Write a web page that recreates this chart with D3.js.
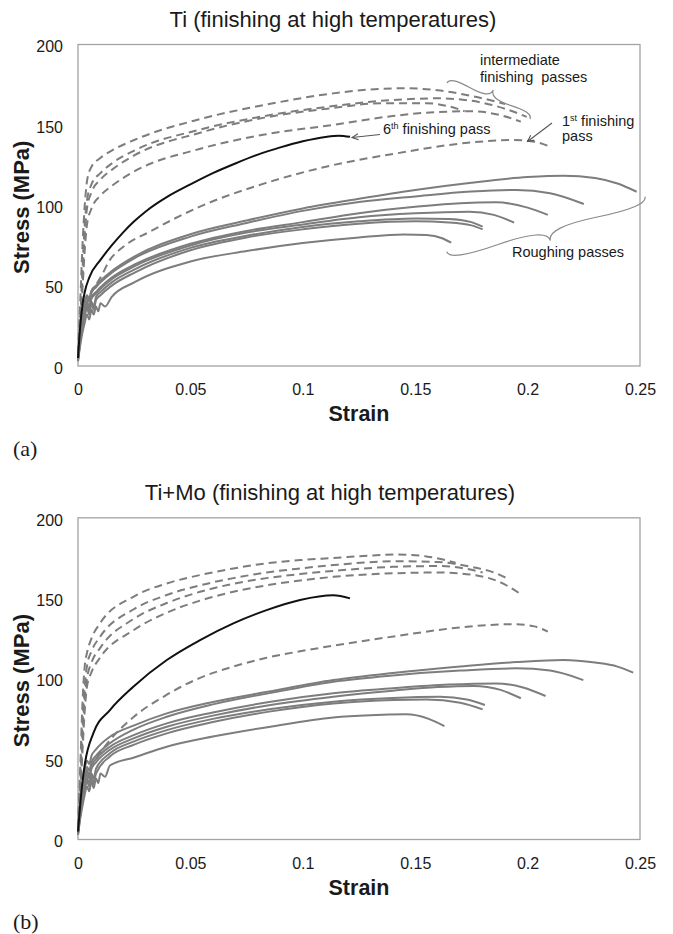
<!DOCTYPE html>
<html><head><meta charset="utf-8">
<script src="https://cdn.jsdelivr.net/npm/d3@7"></script>
<style>
body{margin:0;background:#fff}
text{font-family:"Liberation Sans",Arial,sans-serif;fill:#1a1a1a}
</style>
</head><body>
<svg id="c" width="673" height="934"></svg>
<script>
// ---------- axis data ----------
const xTicks = [0, 0.05, 0.1, 0.15, 0.2, 0.25];
const xTickLabels = ["0", "0.05", "0.1", "0.15", "0.2", "0.25"];
const yTicks = [0, 50, 100, 150, 200];
const yTickLabels = ["0", "50", "100", "150", "200"];
const titles = ["Ti (finishing at high temperatures)", "Ti+Mo (finishing at high temperatures)"];
const panelLabels = ["(a)", "(b)"];
const xLabel = "Strain";
const yLabel = "Stress (MPa)";

// ---------- (a) Ti : roughing passes (solid grey) ----------
const tiRoughing = [
 [[0,6],[0.001,22],[0.002,33],[0.003,40],[0.004,44],[0.005,42],[0.006,47],[0.008,50],[0.01,53],[0.015,59],[0.025,68],[0.05,82],[0.075,90.5],[0.1,98],[0.125,104],[0.15,109.5],[0.175,114],[0.2,117.5],[0.216,118.4],[0.23,117],[0.24,113.5],[0.2485,108.4]],
 [[0,5],[0.001,20],[0.002,31],[0.003,38],[0.004,43],[0.005,40],[0.006,46],[0.008,49],[0.01,52],[0.015,58],[0.025,67],[0.05,80.5],[0.075,89],[0.1,96.5],[0.125,102],[0.15,105.5],[0.175,108.5],[0.195,109.5],[0.21,107.5],[0.225,100.8]],
 [[0,5],[0.001,18],[0.002,28],[0.003,35],[0.004,40],[0.005,37],[0.006,43],[0.008,46],[0.01,49],[0.015,55],[0.025,63],[0.05,76],[0.075,84],[0.1,89.5],[0.125,95],[0.15,99],[0.17,101.3],[0.186,101.8],[0.2,98.5],[0.209,94]],
 [[0,4],[0.001,17],[0.002,27],[0.003,34],[0.004,39],[0.005,36],[0.006,42],[0.008,45],[0.01,48],[0.015,54],[0.025,62],[0.05,75],[0.075,83],[0.1,88],[0.125,92.5],[0.15,95],[0.174,96],[0.185,94],[0.194,89.2]],
 [[0,4],[0.001,16],[0.002,26],[0.003,33],[0.004,37],[0.005,34],[0.006,40],[0.007,37],[0.008,43],[0.01,46],[0.015,52],[0.025,60],[0.05,73.5],[0.075,81],[0.1,86.5],[0.125,90],[0.15,91.8],[0.165,91.5],[0.175,89.5],[0.18,86.7]],
 [[0,3],[0.001,15],[0.002,24],[0.003,31],[0.004,36],[0.005,32],[0.006,39],[0.007,35],[0.008,41],[0.01,44],[0.015,50],[0.025,58],[0.05,72],[0.075,80],[0.1,85],[0.125,88.5],[0.15,90],[0.165,89.3],[0.175,87.5],[0.18,85]],
 [[0,3],[0.001,13],[0.002,21],[0.003,27],[0.004,32],[0.005,29],[0.006,35],[0.007,32],[0.008,37],[0.009,34],[0.01,39],[0.012,37],[0.015,43],[0.025,52],[0.05,65],[0.075,71.5],[0.1,76.5],[0.125,80],[0.145,81.8],[0.155,81.5],[0.162,79.5],[0.166,76.7]]
];
// (a) intermediate finishing passes (dashed grey)
const tiIntermediate = [
 [[0,8],[0.001,40],[0.002,75],[0.003,100],[0.004,115],[0.006,124],[0.0098,129.2],[0.015,134],[0.025,140.6],[0.054,153.5],[0.083,162.4],[0.1135,169.6],[0.13,172],[0.145,172.8],[0.16,171.5],[0.175,168],[0.19,163]],
 [[0,6],[0.001,30],[0.002,60],[0.003,88],[0.004,103],[0.006,113],[0.01,120],[0.015,126],[0.025,134],[0.054,147],[0.083,155.5],[0.1135,161.7],[0.14,165.5],[0.16,166.5],[0.175,165],[0.19,160],[0.1996,155]],
 [[0,6],[0.001,28],[0.002,55],[0.003,82],[0.004,98],[0.006,108],[0.01,116],[0.015,122],[0.025,131],[0.054,145],[0.083,154.5],[0.1135,160.5],[0.135,163.5],[0.155,163.5],[0.165,161.5],[0.172,158.5]],
 [[0,5],[0.001,25],[0.002,48],[0.003,72],[0.004,88],[0.006,98],[0.01,106],[0.015,112],[0.025,121],[0.054,135],[0.083,144],[0.1135,150],[0.14,155.5],[0.16,158],[0.175,158.5],[0.188,156],[0.197,152]]
];
// (a) 1st finishing pass (dashed grey)
const tiFirstPass = [[0,5],[0.001,20],[0.002,30],[0.004,40],[0.007,48],[0.01,55],[0.0142,66],[0.02,74],[0.032,83.6],[0.054,99],[0.083,113.6],[0.1135,125],[0.1418,132.3],[0.171,138.5],[0.1936,140.6],[0.203,139.5],[0.2107,136]];
// (a) 6th finishing pass (solid black)
const tiSixthPass = [[0,5],[0.001,25],[0.002,38],[0.003,46],[0.005,55],[0.01,66],[0.015,75],[0.02,83],[0.025,90],[0.03,96],[0.04,105.5],[0.05,113],[0.06,120],[0.07,126],[0.08,131.5],[0.09,136],[0.1,139.8],[0.11,142.5],[0.116,143.3],[0.121,142.6]];

// ---------- (b) Ti+Mo ----------
const timoRoughing = [
 [[0,5],[0.001,22],[0.002,35],[0.003,44],[0.004,49],[0.005,47],[0.006,52],[0.008,56],[0.0142,63.9],[0.025,71],[0.0395,78.4],[0.06,85.5],[0.085,92],[0.1136,99.1],[0.14,103.5],[0.17,107.5],[0.195,110.3],[0.216,111.6],[0.23,110],[0.24,107.5],[0.247,103.7]],
 [[0,5],[0.001,20],[0.002,32],[0.003,40],[0.004,45],[0.005,43],[0.006,48],[0.008,52],[0.0142,59.8],[0.025,68.5],[0.0395,76.3],[0.06,84],[0.085,91],[0.1136,98.1],[0.14,102],[0.17,105],[0.195,106.4],[0.21,105],[0.2248,99.1]],
 [[0,4],[0.001,18],[0.002,30],[0.003,38],[0.004,43],[0.005,40],[0.006,46],[0.008,50],[0.0142,57.7],[0.025,65],[0.0395,72.2],[0.06,79],[0.085,85.5],[0.1136,90.9],[0.14,94],[0.165,96.3],[0.186,97],[0.198,94.5],[0.208,89.2]],
 [[0,4],[0.001,17],[0.002,28],[0.003,36],[0.004,41],[0.005,38],[0.006,44],[0.008,48],[0.0142,55.8],[0.025,63],[0.0395,70.1],[0.06,77],[0.085,83.5],[0.1136,88.8],[0.14,92.5],[0.16,94.8],[0.176,95.5],[0.188,93],[0.197,87.8]],
 [[0,3],[0.001,16],[0.002,26],[0.003,33],[0.004,38],[0.005,35],[0.006,41],[0.007,38],[0.008,44],[0.0142,53.6],[0.025,61],[0.0395,68],[0.06,75],[0.085,81],[0.1136,85.7],[0.14,88],[0.161,88.7],[0.173,87],[0.181,83.6]],
 [[0,3],[0.001,15],[0.002,24],[0.003,31],[0.004,36],[0.005,33],[0.006,39],[0.007,35],[0.008,41],[0.0142,51.6],[0.025,59],[0.0395,66],[0.06,73],[0.085,79.5],[0.1136,84.6],[0.14,86.8],[0.155,87],[0.17,85],[0.18,80.9]],
 [[0,3],[0.001,13],[0.002,21],[0.003,28],[0.004,33],[0.005,30],[0.006,36],[0.007,32],[0.008,38],[0.009,35],[0.01,41],[0.012,39],[0.0142,46],[0.025,51],[0.0395,57.7],[0.06,64],[0.085,70],[0.1136,75.9],[0.13,77.3],[0.146,77.8],[0.156,75],[0.163,70.5]]
];
const timoIntermediate = [
 [[0,8],[0.001,45],[0.002,85],[0.003,108],[0.004,116],[0.006,125],[0.0098,134.4],[0.0246,150.9],[0.0395,159.2],[0.0543,164.4],[0.0691,168.5],[0.0839,171.7],[0.0988,173.7],[0.1136,175],[0.13,176.5],[0.1418,177.2],[0.155,176],[0.168,172]],
 [[0,7],[0.001,38],[0.002,72],[0.003,95],[0.004,108],[0.006,117],[0.0098,126],[0.0246,143],[0.0395,152],[0.0543,158],[0.0691,162.5],[0.0839,166],[0.0988,168.5],[0.1136,170.6],[0.1418,173],[0.16,172.5],[0.175,169.5],[0.185,166],[0.191,162.3]],
 [[0,6],[0.001,32],[0.002,62],[0.003,88],[0.004,100],[0.006,110],[0.0098,119],[0.0246,137],[0.0395,147],[0.0543,154],[0.0691,159],[0.0839,162.5],[0.0988,165],[0.1136,167],[0.14,169.5],[0.16,170],[0.172,168.5],[0.18,166]],
 [[0,5],[0.001,28],[0.002,55],[0.003,80],[0.004,95],[0.006,104],[0.0098,113],[0.0246,130],[0.0395,141],[0.0543,148.5],[0.0691,154],[0.0839,158],[0.0988,161],[0.1136,163.3],[0.14,165.5],[0.16,166],[0.178,164],[0.19,158.5],[0.196,153.4]]
];
const timoFirstPass = [[0,4],[0.001,18],[0.002,28],[0.004,38],[0.007,47],[0.01,54],[0.015,63],[0.0246,76],[0.0395,90],[0.0543,100.5],[0.0691,107.5],[0.0839,113],[0.0988,117],[0.1136,120.5],[0.1418,126.5],[0.171,132],[0.1936,133.9],[0.203,132.5],[0.209,129.2]];
const timoSixthPass = [[0,5],[0.001,22],[0.002,36],[0.0031,47.4],[0.0068,66],[0.0142,80.5],[0.0246,95],[0.0395,111.6],[0.0543,124],[0.0691,134.4],[0.0839,142.6],[0.0988,148.9],[0.1136,151.8],[0.121,149.9]];

// ---------- drawing ----------
const svg = d3.select("#c");
const GREY = "#7d7d7d";
const x = d3.scaleLinear().domain([0, 0.25]).range([78, 640]);

const panels = [
  {top: 44.5, bottom: 366, titleX: 333, rough: tiRoughing, inter: tiIntermediate, first: tiFirstPass, sixth: tiSixthPass},
  {top: 517.8, bottom: 839.5, titleX: 330, rough: timoRoughing, inter: timoIntermediate, first: timoFirstPass, sixth: timoSixthPass}
];

panels.forEach((p, i) => {
  const y = d3.scaleLinear().domain([0, 200]).range([p.bottom, p.top]);
  const g = svg.append("g");
  const line = d3.line().x(d => x(d[0])).y(d => y(d[1])).curve(d3.curveMonotoneX);

  // plot frame
  g.append("rect").attr("x", x(0)).attr("y", y(200)).attr("width", x(0.25) - x(0)).attr("height", y(0) - y(200))
    .attr("fill", "none").attr("stroke", "#a3a3a3").attr("stroke-width", 1.3);

  // axes (labels only, no tick marks)
  const ax = d3.axisBottom(x).tickValues(xTicks).tickFormat((d, k) => xTickLabels[k]).tickSize(0).tickPadding(0);
  const axG = g.append("g").attr("transform", `translate(0,${p.bottom})`).call(ax);
  axG.select(".domain").remove();
  axG.selectAll("text").attr("y", 29).attr("dy", null).style("font-size", "16px").style("fill", "#1a1a1a")
    .style("font-family", "'Liberation Sans',Arial,sans-serif");

  const ay = d3.axisLeft(y).tickValues(yTicks).tickFormat((d, k) => yTickLabels[k]).tickSize(0).tickPadding(0);
  const ayG = g.append("g").attr("transform", `translate(63,0)`).call(ay);
  ayG.select(".domain").remove();
  ayG.selectAll("text").attr("x", 0).attr("dy", "0.45em").style("font-size", "16px").style("fill", "#1a1a1a")
    .style("font-family", "'Liberation Sans',Arial,sans-serif");

  // curves
  const cg = g.append("g");
  p.rough.forEach(c => cg.append("path").attr("d", line(c)).attr("fill", "none").attr("stroke", GREY).attr("stroke-width", 2));
  p.inter.forEach(c => cg.append("path").attr("d", line(c)).attr("fill", "none").attr("stroke", GREY).attr("stroke-width", 2).attr("stroke-dasharray", "8,5"));
  cg.append("path").attr("d", line(p.first)).attr("fill", "none").attr("stroke", GREY).attr("stroke-width", 2).attr("stroke-dasharray", "8,5");
  cg.append("path").attr("d", line(p.sixth)).attr("fill", "none").attr("stroke", "#111").attr("stroke-width", 2);

  // titles and axis titles
  svg.append("text").attr("x", p.titleX).attr("y", p.top - 18).attr("text-anchor", "middle")
    .style("font-size", "22px").text(titles[i]);
  svg.append("text").attr("x", (x(0) + x(0.25)) / 2).attr("y", p.bottom + 55).attr("text-anchor", "middle")
    .style("font-size", "21.5px").style("font-weight", "bold").text(xLabel);
  svg.append("text").attr("transform", `translate(28.5,${(p.top + p.bottom) / 2 + 2}) rotate(-90)`).attr("text-anchor", "middle")
    .style("font-size", "22px").style("font-weight", "bold").text(yLabel);
  svg.append("text").attr("x", 13).attr("y", p.bottom + 89.5)
    .style("font-family", "'Liberation Serif','Times New Roman',serif").style("font-size", "22px").text(panelLabels[i]);
});

// ---------- annotations (panel a) ----------
function brace(x1, y1, x2, y2, w, q) {
  const len = Math.hypot(x1 - x2, y1 - y2);
  const dx = (x1 - x2) / len, dy = (y1 - y2) / len;
  const qx1 = x1 + q * w * dy, qy1 = y1 - q * w * dx;
  const qx2 = (x1 - .25 * len * dx) + (1 - q) * w * dy, qy2 = (y1 - .25 * len * dy) - (1 - q) * w * dx;
  const tx = (x1 - .5 * len * dx) + w * dy, ty = (y1 - .5 * len * dy) - w * dx;
  const qx3 = x2 + q * w * dy, qy3 = y2 - q * w * dx;
  const qx4 = (x1 - .75 * len * dx) + (1 - q) * w * dy, qy4 = (y1 - .75 * len * dy) - (1 - q) * w * dx;
  return `M${x1},${y1}Q${qx1},${qy1} ${qx2},${qy2}T${tx},${ty}M${x2},${y2}Q${qx3},${qy3} ${qx4},${qy4}T${tx},${ty}`;
}
const ann = svg.append("g");
ann.append("path").attr("d", brace(530, 119, 447, 83, 12, 0.6)).attr("fill", "none").attr("stroke", "#8a8a8a").attr("stroke-width", 1.2);
ann.append("path").attr("d", brace(446.7, 251.7, 645, 196.7, 17, 0.6)).attr("fill", "none").attr("stroke", "#8a8a8a").attr("stroke-width", 1.2);

function arrow(x1, y1, x2, y2) {
  ann.append("line").attr("x1", x1).attr("y1", y1).attr("x2", x2).attr("y2", y2).attr("stroke", "#555").attr("stroke-width", 1.1);
  const a = Math.atan2(y1 - y2, x1 - x2), L = 7, s = 0.45;
  ann.append("path").attr("d", `M${x2 + L * Math.cos(a + s)},${y2 + L * Math.sin(a + s)}L${x2},${y2}L${x2 + L * Math.cos(a - s)},${y2 + L * Math.sin(a - s)}`)
    .attr("fill", "none").attr("stroke", "#555").attr("stroke-width", 1.1);
}
arrow(380, 134.5, 352, 137.5);
arrow(552, 123, 527.5, 141.5);

const fs = "14.5px";
ann.append("text").attr("x", 480).attr("y", 65).style("font-size", fs).text("intermediate");
ann.append("text").attr("x", 480).attr("y", 82).style("font-size", fs).style("white-space", "pre").text("finishing  passes");
const t6 = ann.append("text").attr("x", 383).attr("y", 133.5).style("font-size", fs);
t6.append("tspan").text("6");
t6.append("tspan").attr("dy", -5).style("font-size", "9px").text("th");
t6.append("tspan").attr("dy", 5).text(" finishing pass");
const t1 = ann.append("text").attr("x", 562).attr("y", 126).style("font-size", fs);
t1.append("tspan").text("1");
t1.append("tspan").attr("dy", -5).style("font-size", "9px").text("st");
t1.append("tspan").attr("dy", 5).text(" finishing");
ann.append("text").attr("x", 562).attr("y", 140.5).style("font-size", fs).text("pass");
ann.append("text").attr("x", 512).attr("y", 257).style("font-size", fs).text("Roughing passes");
</script>
</body></html>
